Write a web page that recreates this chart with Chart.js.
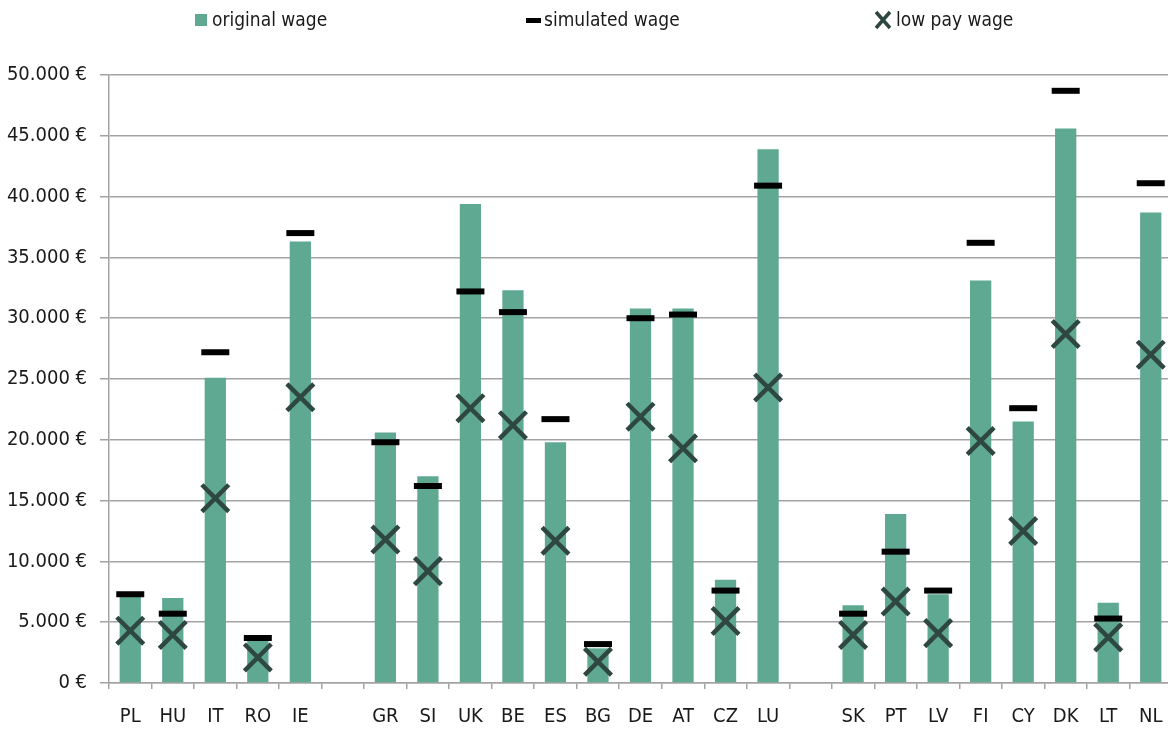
<!DOCTYPE html>
<html>
<head>
<meta charset="utf-8">
<script src="https://cdn.jsdelivr.net/npm/chart.js@4/dist/chart.umd.min.js"></script>
<style>
  html, body { margin: 0; padding: 0; background: #ffffff; overflow: hidden; }
  #wrap { width: 1172px; height: 729px; }
</style>
</head>
<body>
<div id="wrap"><canvas id="c" width="1172" height="729"></canvas></div>
<script>
// ---- data ----
const categories = ['PL','HU','IT','RO','IE','','GR','SI','UK','BE','ES','BG','DE','AT','CZ','LU','','SK','PT','LV','FI','CY','DK','LT','NL'];
const originalWage  = [7100, 7000, 25100, 3500, 36300, null, 20600, 17000, 39400, 32300, 19800, 2850, 30800, 30800, 8500, 43900, null, 6400, 13900, 7300, 33100, 21500, 45600, 6600, 38700];
const simulatedWage = [7300, 5700, 27200, 3700, 37000, null, 19800, 16200, 32200, 30500, 21700, 3200, 30000, 30300, 7600, 40900, null, 5700, 10800, 7600, 36200, 22600, 48700, 5300, 41100];
const lowPayWage    = [4300, 3950, 15200, 2100, 23500, null, 11800, 9200, 22600, 21200, 11700, 1750, 21900, 19300, 5100, 24300, null, 3950, 6700, 4100, 19900, 12500, 28700, 3750, 27000];
const seriesNames = ['original wage', 'simulated wage', 'low pay wage'];
const yMin = 0, yMax = 50000, yStep = 5000;

const BAR = '#5fa892';
const XCOL = '#2f4741';
const GRID = '#a3a3a3';
const FONT = '"DejaVu Sans Condensed", "Liberation Sans Narrow", sans-serif';

function fmtEuro(v) {
  return String(v).replace(/\B(?=(\d{3})+(?!\d))/g, '.') + ' €';
}

const legendPlugin = {
  id: 'customLegend',
  afterDraw(chart) {
    const ctx = chart.ctx;
    const ds = chart.data.datasets;
    ctx.save();
    ctx.font = '19px ' + FONT;
    ctx.textBaseline = 'middle';
    ctx.textAlign = 'left';
    const cy = 21;
    // original wage: square
    ctx.fillStyle = BAR;
    ctx.fillRect(195, cy - 7, 12, 12);
    ctx.fillStyle = '#1a1a1a';
    ctx.fillText(ds[0].label, 212, cy);
    // simulated wage: dash
    ctx.fillStyle = '#000';
    ctx.fillRect(526, cy - 3, 15, 5);
    ctx.fillStyle = '#1a1a1a';
    ctx.fillText(ds[1].label, 544, cy);
    // low pay wage: cross
    ctx.strokeStyle = XCOL;
    ctx.lineWidth = 3.5;
    ctx.beginPath();
    ctx.moveTo(876, cy - 9); ctx.lineTo(890, cy + 7);
    ctx.moveTo(890, cy - 9); ctx.lineTo(876, cy + 7);
    ctx.stroke();
    ctx.fillStyle = '#1a1a1a';
    ctx.fillText(ds[2].label, 896, cy);
    ctx.restore();
  }
};

new Chart(document.getElementById('c'), {
  data: {
    labels: categories,
    datasets: [
      {
        type: 'bar',
        label: seriesNames[0],
        data: originalWage,
        backgroundColor: BAR,
        borderWidth: 0,
        barPercentage: 1.0,
        categoryPercentage: 0.5,
        order: 3
      },
      {
        type: 'line',
        label: seriesNames[1],
        data: simulatedWage,
        showLine: false,
        clip: false,
        pointStyle: 'line',
        pointRadius: 14,
        pointHoverRadius: 14,
        pointBorderWidth: 6,
        pointBorderColor: '#000000',
        pointBackgroundColor: '#000000',
        order: 1
      },
      {
        type: 'line',
        label: seriesNames[2],
        data: lowPayWage,
        showLine: false,
        clip: false,
        pointStyle: 'crossRot',
        pointRadius: 19,
        pointHoverRadius: 19,
        pointBorderWidth: 4.5,
        pointBorderColor: XCOL,
        pointBackgroundColor: XCOL,
        order: 2
      }
    ]
  },
  options: {
    responsive: false,
    animation: false,
    devicePixelRatio: 1,
    layout: { autoPadding: false, padding: { top: 75, right: 0, bottom: 0, left: 0 } },
    plugins: {
      legend: { display: false },
      tooltip: { enabled: false }
    },
    scales: {
      x: {
        offset: true,
        grid: {
          offset: true,
          drawOnChartArea: false,
          drawTicks: true,
          tickLength: 6,
          color: GRID,
          lineWidth: 1.5
        },
        border: { display: true, color: GRID, width: 1.5 },
        ticks: {
          autoSkip: false,
          maxRotation: 0,
          padding: 16,
          color: '#1a1a1a',
          font: { family: FONT, size: 20 }
        },
        afterFit(scale) {
          scale.height = 46;
          scale.paddingLeft = 0;
          scale.paddingRight = 0;
        }
      },
      y: {
        min: yMin,
        max: yMax,
        grid: {
          color: GRID,
          lineWidth: 1.5,
          drawTicks: true,
          tickLength: 9
        },
        border: { display: true, color: GRID, width: 1.5 },
        ticks: {
          stepSize: yStep,
          padding: 13,
          color: '#1a1a1a',
          font: { family: FONT, size: 20 },
          callback: (v) => fmtEuro(v)
        },
        afterFit(scale) { scale.width = 109; }
      }
    }
  },
  plugins: [legendPlugin]
});
</script>
</body>
</html>
